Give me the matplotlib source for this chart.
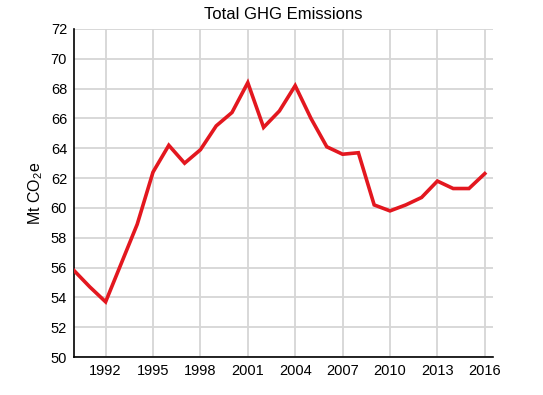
import matplotlib
matplotlib.use("Agg")
import matplotlib.pyplot as plt

years = list(range(1990, 2017))
emissions = [55.8, 54.7, 53.7, 56.3, 58.9, 62.4, 64.2, 63.0, 63.9, 65.5, 66.4,
             68.4, 65.4, 66.5, 68.2, 66.0, 64.1, 63.6, 63.7, 60.2, 59.8, 60.2,
             60.7, 61.8, 61.3, 61.3, 62.3]
x_ticks = [1992, 1995, 1998, 2001, 2004, 2007, 2010, 2013, 2016]
y_ticks = list(range(50, 73, 2))
title = "Total GHG Emissions"
ylabel = "Mt CO$_2$e"

plt.rcParams['font.family'] = ['Liberation Sans', 'DejaVu Sans']
plt.rcParams['mathtext.fontset'] = 'custom'
plt.rcParams['mathtext.rm'] = 'Liberation Sans'
plt.rcParams['mathtext.it'] = 'Liberation Sans'

fig = plt.figure(figsize=(5.43, 3.95), dpi=100)
ax = fig.add_axes([0.1363, 0.0962, 0.7710, 0.8304])

ax.plot(years, emissions, color='#e3171f', linewidth=2.6, solid_joinstyle='miter', zorder=3)

ax.set_xlim(1990, 2016.5)
ax.set_ylim(50, 72)
ax.set_xticks(x_ticks)
ax.set_yticks(y_ticks)
ax.grid(True, color='#d6d6d6', linewidth=1.3)
ax.set_axisbelow(True)
ax.tick_params(length=0, labelsize=10.5, colors='black', pad=5)
for s in ['top', 'right']:
    ax.spines[s].set_visible(False)
for s in ['left', 'bottom']:
    ax.spines[s].set_color('black')
    ax.spines[s].set_linewidth(1.2)

ax.set_title(title, fontsize=12, pad=7)
ax.set_ylabel(ylabel, fontsize=11.5, labelpad=4)

fig.savefig("out.png", dpi=100)
